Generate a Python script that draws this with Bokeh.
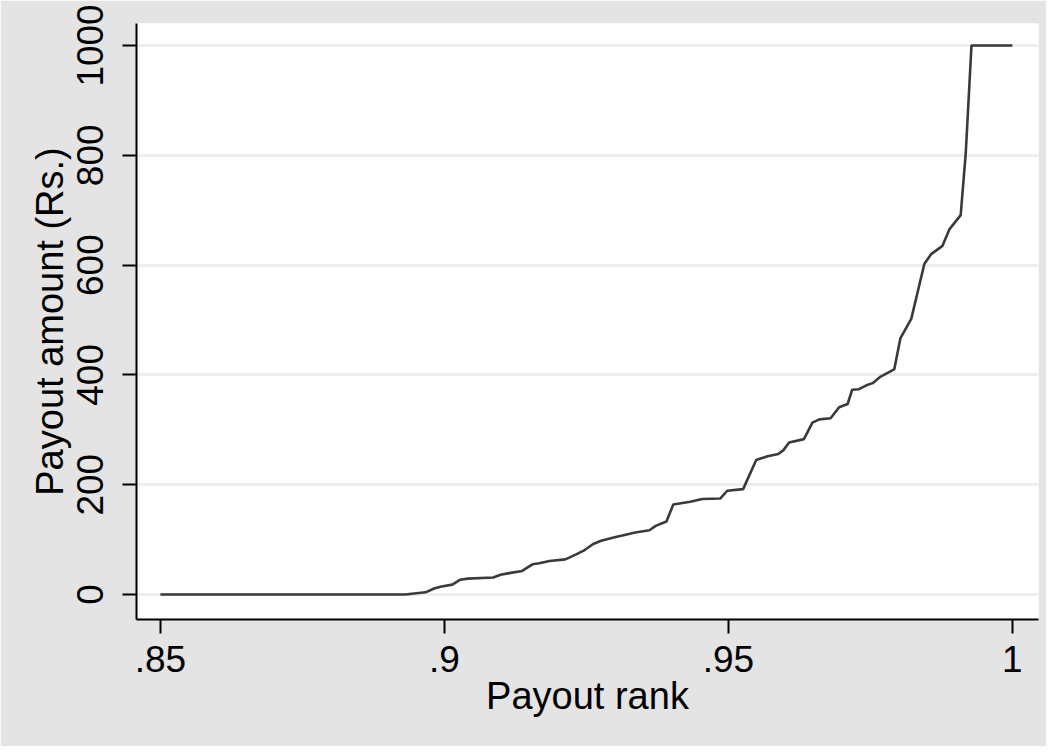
from bokeh.plotting import figure
from bokeh.models import Range1d, FixedTicker
from bokeh.embed import file_html
from bokeh.resources import INLINE

# Payout rank (x) and payout amount in Rs. (y)
rank = [0.85, 0.8931, 0.8967, 0.8982, 0.8993, 0.9014, 0.9028, 0.9041, 0.9086, 0.9099,
        0.9114, 0.9137, 0.9155, 0.9167, 0.9185, 0.9213, 0.9232, 0.9247, 0.9262, 0.9276,
        0.9298, 0.9319, 0.9336, 0.9361, 0.9372, 0.9391, 0.9403, 0.9433, 0.9454, 0.9486,
        0.9498, 0.9526, 0.9549, 0.9569, 0.9588, 0.9597, 0.9607, 0.9633, 0.9648, 0.9660,
        0.9680, 0.9695, 0.9710, 0.9718, 0.9730, 0.9743, 0.9754, 0.9768, 0.9792, 0.9803,
        0.9822, 0.9845, 0.9857, 0.9877, 0.9889, 0.9909, 0.9918, 0.9928, 1.0]
amount = [0, 0, 4, 11, 14, 18, 27, 29, 31, 36,
          39, 43, 55, 57, 61, 64, 73, 81, 92, 98,
          104, 109, 113, 117, 125, 133, 164, 169, 174, 175,
          189, 192, 245, 252, 256, 263, 277, 283, 313, 319,
          321, 341, 347, 373, 374, 381, 385, 397, 410, 467,
          502, 602, 620, 635, 665, 691, 805, 1000, 1000]

x_ticks = [0.85, 0.9, 0.95, 1.0]
x_tick_labels = [".85", ".9", ".95", "1"]
y_ticks = [0, 200, 400, 600, 800, 1000]
y_tick_labels = ["0", "200", "400", "600", "800", "1000"]

x_title = "Payout rank"
y_title = "Payout amount (Rs.)"

FONT = "Liberation Sans"
BG = "#e4e4e4"

p = figure(width=1046, height=746, output_backend="svg", toolbar_location=None,
           x_range=Range1d(0.8458, 1.0046), y_range=Range1d(-45.5, 1040),
           min_border_left=136, min_border_right=8, min_border_top=23, min_border_bottom=127,
           background_fill_color="white", border_fill_color=BG, outline_line_color=None)

p.line(rank, amount, line_color="#3a3a3a", line_width=2.6)

p.xgrid.visible = False
p.ygrid.ticker = FixedTicker(ticks=y_ticks)
p.ygrid.grid_line_color = "#eeeeee"
p.ygrid.grid_line_width = 3

p.xaxis.ticker = FixedTicker(ticks=x_ticks)
p.xaxis.major_label_overrides = {t: l for t, l in zip(x_ticks, x_tick_labels)}
p.yaxis.ticker = FixedTicker(ticks=y_ticks)
p.yaxis.major_label_overrides = {t: l for t, l in zip(y_ticks, y_tick_labels)}
p.yaxis.major_label_orientation = "vertical"

p.xaxis.axis_label = x_title
p.yaxis.axis_label = y_title

for ax in (p.xaxis, p.yaxis):
    ax.axis_line_color = "black"
    ax.axis_line_width = 2
    ax.major_tick_line_color = "black"
    ax.major_tick_line_width = 2
    ax.major_tick_out = 14
    ax.major_tick_in = 0
    ax.minor_tick_line_color = None
    ax.major_label_text_font = FONT
    ax.major_label_text_font_size = "37px"
    ax.major_label_text_color = "black"
    ax.axis_label_text_font = FONT
    ax.axis_label_text_font_size = "38px"
    ax.axis_label_text_font_style = "normal"
    ax.axis_label_text_color = "black"

p.xaxis.major_label_standoff = 12
p.xaxis.axis_label_standoff = 0
p.yaxis.major_label_standoff = 19
p.yaxis.axis_label_standoff = 4

open("out.html", "w").write(file_html(p, INLINE))
